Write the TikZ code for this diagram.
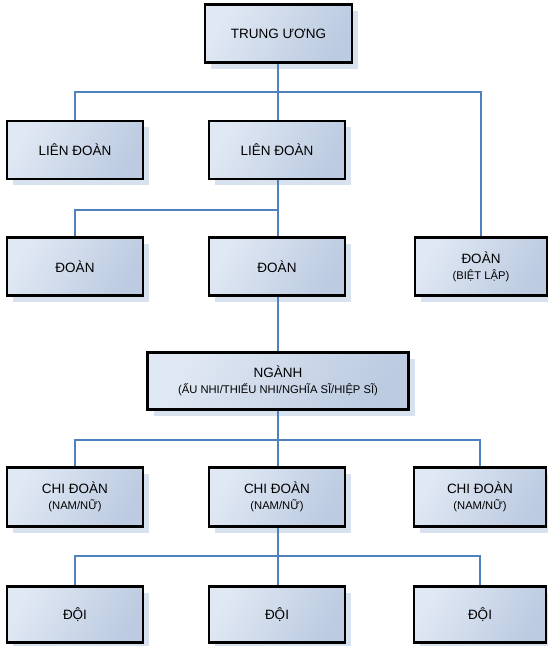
\documentclass[tikz,border=0pt]{standalone}
\usepackage{fontspec}
\setmainfont{Liberation Sans}
\usetikzlibrary{shadows}
\definecolor{lineblue}{HTML}{4F81BD}
\definecolor{boxlight}{HTML}{E0E8F3}
\definecolor{boxdark}{HTML}{BCCBE1}
\definecolor{shadowc}{HTML}{D8E1EE}
\tikzset{
  orgbox/.style={draw=black, line width=2.6pt, left color=boxlight, right color=boxdark,
    shading angle=60, align=center, font=\fontsize{13.5}{16}\selectfont, inner sep=0pt,
    general shadow={fill=shadowc, shadow xshift=6pt, shadow yshift=-6pt}},
  link/.style={draw=lineblue, line width=1.4pt}
}
\newcommand{\subl}[1]{\\[0pt]{\fontsize{11.2}{13}\selectfont #1}}
\begin{document}
\begin{tikzpicture}[x=1pt,y=-1pt]
\useasboundingbox (0,0) rectangle (548,646);
\coordinate (j1) at (278,92);
\coordinate (j2) at (278,210);
\coordinate (j3) at (278,440);
\coordinate (j4) at (278,556);
% nodes
\node[orgbox, minimum width=147pt, minimum height=58pt] (tw) at (278.5,33.5) {TRUNG ƯƠNG};
\node[orgbox, minimum width=136pt, minimum height=58pt] (ld1) at (75,150) {LIÊN ĐOÀN};
\node[orgbox, minimum width=136pt, minimum height=58pt] (ld2) at (277,150) {LIÊN ĐOÀN};
\node[orgbox, minimum width=136pt, minimum height=58pt] (d1) at (75,266.5) {ĐOÀN};
\node[orgbox, minimum width=136pt, minimum height=58pt] (d2) at (277,266.5) {ĐOÀN};
\node[orgbox, minimum width=132pt, minimum height=58pt] (d3) at (481,266.5) {ĐOÀN\subl{(BIỆT LẬP)}};
\node[orgbox, minimum width=261pt, minimum height=57pt] (ng) at (278,381) {NGÀNH\subl{(ẤU NHI/THIẾU NHI/NGHĨA SĨ/HIỆP SĨ)}};
\node[orgbox, minimum width=136pt, minimum height=59pt] (cd1) at (75,497) {CHI ĐOÀN\subl{(NAM/NỮ)}};
\node[orgbox, minimum width=136pt, minimum height=59pt] (cd2) at (277,497) {CHI ĐOÀN\subl{(NAM/NỮ)}};
\node[orgbox, minimum width=132pt, minimum height=59pt] (cd3) at (480,497) {CHI ĐOÀN\subl{(NAM/NỮ)}};
\node[orgbox, minimum width=136pt, minimum height=56pt] (o1) at (75,614.5) {ĐỘI};
\node[orgbox, minimum width=136pt, minimum height=56pt] (o2) at (277,614.5) {ĐỘI};
\node[orgbox, minimum width=132pt, minimum height=56pt] (o3) at (480,614.5) {ĐỘI};
% links
\path[link] (tw.south -| j1) -- (j1);
\path[link] (j1) -| (ld1.north);
\path[link] (j1) -| (d3.north);
\path[link] (j1) -- (j1 |- ld2.north);
\path[link] (ld2.south -| j2) -- (j2);
\path[link] (j2) -| (d1.north);
\path[link] (j2) -- (j2 |- d2.north);
\path[link] (d2.south -| j2) -- (j2 |- ng.north);
\path[link] (ng.south -| j3) -- (j3);
\path[link] (j3) -| (cd1.north);
\path[link] (j3) -| (cd3.north);
\path[link] (j3) -- (j3 |- cd2.north);
\path[link] (cd2.south -| j4) -- (j4);
\path[link] (j4) -| (o1.north);
\path[link] (j4) -| (o3.north);
\path[link] (j4) -- (j4 |- o2.north);
\end{tikzpicture}
\end{document}
